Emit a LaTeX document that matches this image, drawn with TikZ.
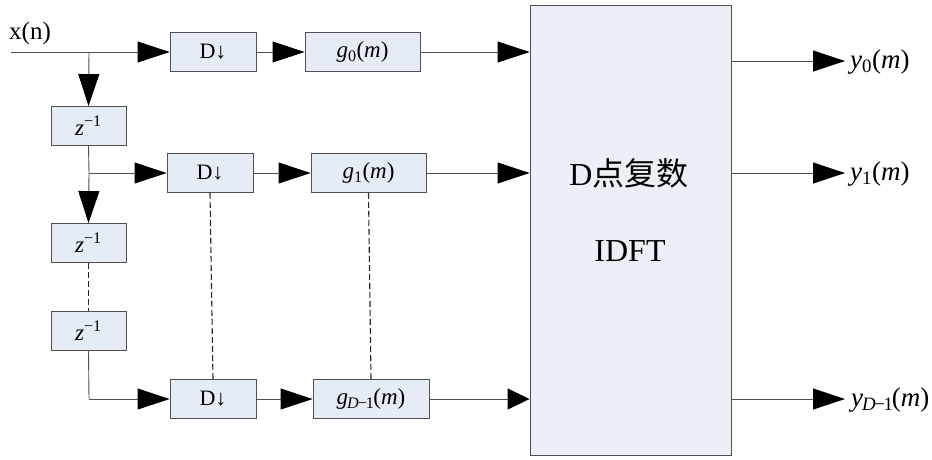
\documentclass[tikz,border=0pt]{standalone}
\usepackage{fontspec}
\setmainfont{Liberation Serif}
\newfontfamily\cjk{Noto Sans CJK SC}
\usetikzlibrary{arrows.meta}
\definecolor{blockfill}{HTML}{E6ECF6}
\definecolor{bigfill}{HTML}{EBF0F8}
\definecolor{linecol}{HTML}{505050}
\begin{document}
\begin{tikzpicture}[x=1pt,y=-1pt,
  blk/.style={draw=linecol, fill=blockfill, line width=0.9pt, minimum height=39pt, inner sep=0pt},
  ln/.style={draw=linecol, line width=0.9pt},
  arr/.style={ln, -{Triangle[length=32pt,width=21pt,color=black]}},
  arrs/.style={ln, -{Triangle[length=22pt,width=21pt,color=black]}},
  dsh/.style={draw=black!85, line width=1.1pt, dash pattern=on 6pt off 3pt},
  dtxt/.style={font=\fontsize{22}{22}\selectfont},
  gtxt/.style={font=\fontsize{23}{23}\selectfont},
  ytxt/.style={font=\fontsize{27}{27}\selectfont, anchor=west, inner sep=0pt}
]
\useasboundingbox (0,0) rectangle (932,459);

% IDFT block
\node[draw=linecol, fill=bigfill, line width=0.9pt, minimum width=201pt, minimum height=450pt, inner sep=0pt] (idft) at (630.5,230) {};
\node[font=\fontsize{32}{32}\selectfont] (t1) at (629,173) {D{\cjk 点复数}};
\node[font=\fontsize{32}{32}\selectfont] (t2) at (630,251) {IDFT};

% delay blocks
\node[blk, minimum width=75pt, gtxt] (z1) at (88.5,126) {\textit{z}\textsuperscript{−1}};
\node[blk, minimum width=75pt, gtxt] (z2) at (88.5,243) {\textit{z}\textsuperscript{−1}};
\node[blk, minimum width=75pt, gtxt] (z3) at (88.5,330.5) {\textit{z}\textsuperscript{−1}};

% decimators
\node[blk, minimum width=86pt, dtxt] (D0) at (213,52) {D↓};
\node[blk, minimum width=86pt, dtxt] (D1) at (210,173) {D↓};
\node[blk, minimum width=86pt, dtxt] (D2) at (213,399) {D↓};

% filters
\node[blk, minimum width=115pt, gtxt] (g0) at (362.5,52) {\textit{g}\textsubscript{0}(\textit{m})};
\node[blk, minimum width=115pt, gtxt] (g1) at (368.5,173) {\textit{g}\textsubscript{1}(\textit{m})};
\node[blk, minimum width=116pt, gtxt] (g2) at (371,399) {\textit{g}\kern-1pt\textsubscript{\textit{D}\kern-1pt−\kern-1pt1}\kern-1pt(\textit{m})};

% input
\coordinate (in) at (11,52);
\coordinate (br0) at (89,52);
\coordinate (br1) at (89,173);
\coordinate (br2) at (89,399);
\node[font=\fontsize{25}{25}\selectfont, inner sep=0pt] (xn) at (30,33) {x(n)};

\draw[arr] (in) -- (D0.west);
\draw[arr] (br0) -- (z1.north);
\draw[ln] (z1.south) -- (br1);
\draw[arr] (br1) -- (D1.west);
\draw[arr] (br1) -- (z2.north);
\draw[dsh] (z2.south) -- (z3.north);
\draw[ln] (z3.south) -- (br2);
\draw[arr] (br2) -- (D2.west);

\draw[arr] (D0.east) -- (g0.west);
\draw[arr] (D1.east) -- (g1.west);
\draw[arr] (D2.east) -- (g2.west);

\draw[dsh] (D1.south) -- (D2.north);
\draw[dsh] (g1.south) -- (g2.north);

\draw[arr] (g0.east) -- (g0.east -| idft.west);
\draw[arr] (g1.east) -- (g1.east -| idft.west);
\draw[arrs] (g2.east) -- (g2.east -| idft.west);

% outputs
\coordinate (o0) at (845,61);
\coordinate (o1) at (845,173);
\coordinate (o2) at (845,399);
\draw[arr] (o0 -| idft.east) -- (o0);
\draw[arr] (o1 -| idft.east) -- (o1);
\draw[arr] (o2 -| idft.east) -- (o2);
\node[ytxt] (y0) at (850,62) {\textit{y}\textsubscript{0}(\textit{m})};
\node[ytxt] (y1) at (850,174) {\textit{y}\textsubscript{1}(\textit{m})};
\node[ytxt] (y2) at (851,400) {\textit{y}\kern-1pt\textsubscript{\textit{D}\kern-1.5pt−\kern-1.5pt1}\kern-1.5pt(\textit{m})};
\end{tikzpicture}
\end{document}
